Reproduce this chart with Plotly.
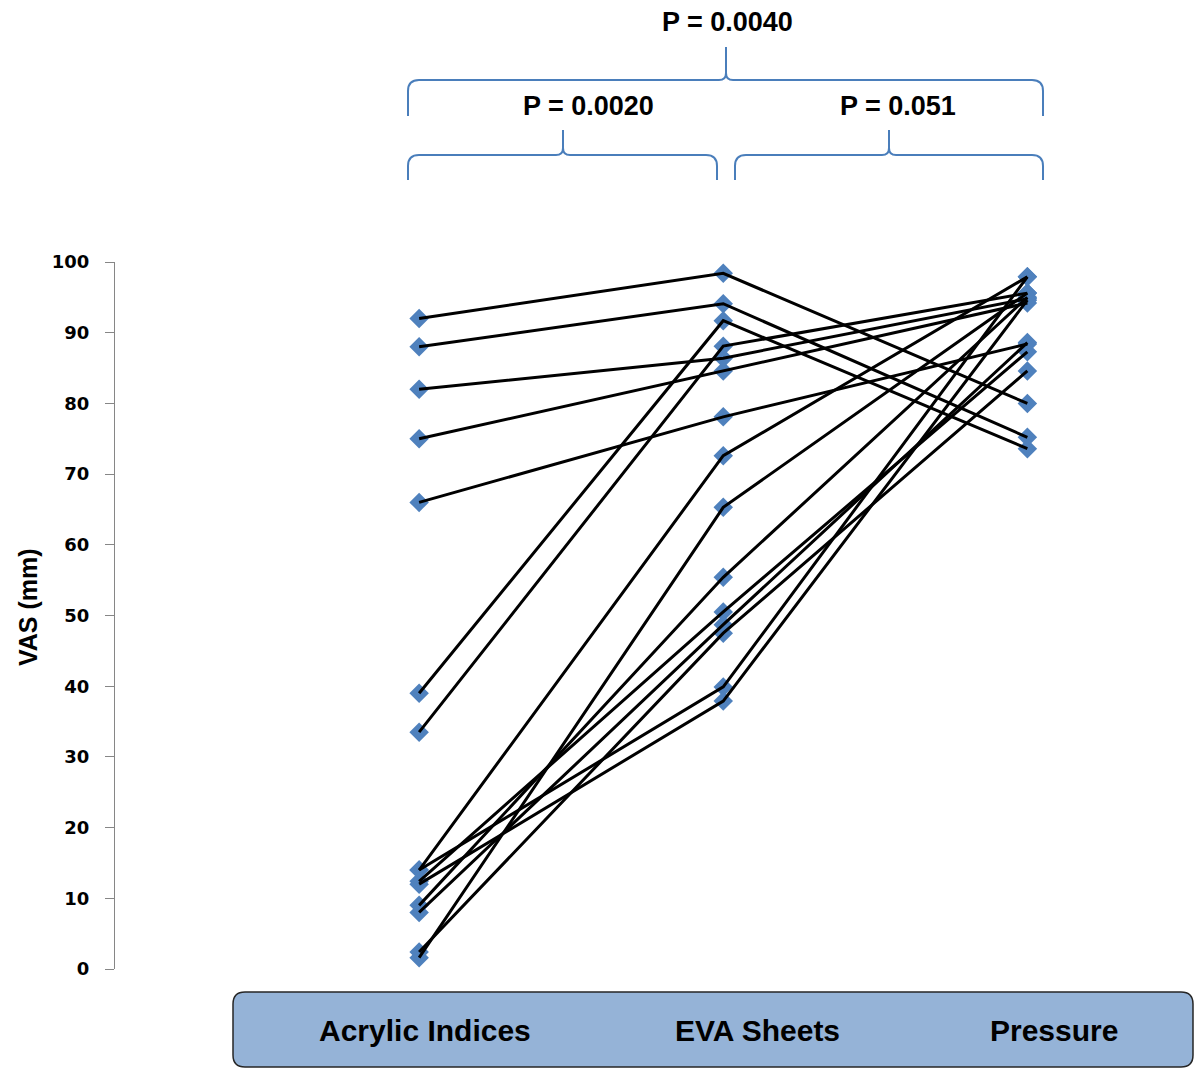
import plotly.graph_objects as go

# Treatment groups (left to right) and VAS scores (mm) per subject
groups = ["Acrylic Indices", "EVA Sheets", "Pressure"]
acrylic = [92.0, 88.0, 39.0, 33.5, 82.0, 75.0, 66.0, 14.0, 1.6, 9.0, 12.4, 8.0, 2.4, 14.0, 12.0]
eva = [98.4, 94.1, 91.7, 88.1, 86.4, 84.6, 78.1, 72.6, 65.3, 55.4, 50.5, 48.7, 47.5, 39.9, 37.9]
pressure = [80.0, 75.2, 73.6, 95.6, 94.8, 94.2, 88.4, 97.9, 95.6, 95.0, 87.3, 88.6, 84.6, 97.9, 94.6]
y_ticks = list(range(0, 101, 10))

# Pairwise comparison labels
p_labels = ["P = 0.0040", "P = 0.0020", "P = 0.051"]

W, H = 1195, 1068
ML, MR, MT, MB = 115, 46, 262, 99
PW, PH = W - ML - MR, H - MT - MB


def px(x):
    return (x - ML) / PW


def py(y):
    return (H - MB - y) / PH


def brace(x0, x1, xm, ybar, ytip, yend, r=11, rt=7):
    pts = [
        ("M", (x0, yend)), ("L", (x0, ybar + r)),
        ("Q", (x0, ybar), (x0 + r, ybar)), ("L", (xm - rt, ybar)),
        ("Q", (xm, ybar), (xm, ybar - rt)), ("L", (xm, ytip)),
        ("L", (xm, ybar - rt)), ("Q", (xm, ybar), (xm + rt, ybar)),
        ("L", (x1 - r, ybar)), ("Q", (x1, ybar), (x1, ybar + r)),
        ("L", (x1, yend)),
    ]
    out = []
    for cmd, *coords in pts:
        out.append(cmd + " " + " ".join(f"{px(a):.5f},{py(b):.5f}" for a, b in coords))
    return " ".join(out)


def rounded_rect(x0, y0, x1, y1, r):
    seq = [
        ("M", (x0 + r, y0)), ("L", (x1 - r, y0)), ("Q", (x1, y0), (x1, y0 + r)),
        ("L", (x1, y1 - r)), ("Q", (x1, y1), (x1 - r, y1)), ("L", (x0 + r, y1)),
        ("Q", (x0, y1), (x0, y1 - r)), ("L", (x0, y0 + r)), ("Q", (x0, y0), (x0 + r, y0)),
    ]
    out = []
    for cmd, *coords in seq:
        out.append(cmd + " " + " ".join(f"{px(a):.5f},{py(b):.5f}" for a, b in coords))
    return " ".join(out) + " Z"


# Build paired lines: one polyline per subject across the three groups
xs, ys = [], []
for a, e, p in zip(acrylic, eva, pressure):
    xs += [0, 1, 2, None]
    ys += [a, e, p, None]

mx = [0] * len(acrylic) + [1] * len(eva) + [2] * len(pressure)
my = acrylic + eva + pressure

fig = go.Figure()
fig.add_trace(go.Scatter(
    x=mx, y=my, mode="markers",
    marker=dict(symbol="diamond", size=15, color="#4F81BD", line=dict(width=0)),
    cliponaxis=False, hoverinfo="skip", showlegend=False,
))
fig.add_trace(go.Scatter(
    x=xs, y=ys, mode="lines",
    line=dict(color="black", width=3),
    cliponaxis=False, hoverinfo="skip", showlegend=False,
))

brace_color = "#4A7EBB"
shapes = [
    dict(type="path", xref="paper", yref="paper",
         path=rounded_rect(233, 992, 1193, 1067, 12),
         fillcolor="#95B3D7", line=dict(color="#262626", width=1.5), layer="below"),
    dict(type="path", xref="paper", yref="paper",
         path=brace(408, 1043, 726, 80, 47, 116),
         line=dict(color=brace_color, width=2)),
    dict(type="path", xref="paper", yref="paper",
         path=brace(408, 717, 563, 155, 130, 180),
         line=dict(color=brace_color, width=2)),
    dict(type="path", xref="paper", yref="paper",
         path=brace(735, 1043, 889, 155, 130, 180),
         line=dict(color=brace_color, width=2)),
]

label_font = dict(family="Liberation Sans, Arial, sans-serif", size=30, color="black", weight="bold")
p_font = dict(family="Liberation Sans, Arial, sans-serif", size=27, color="black", weight="bold")

annotations = []
for name, cx in zip(groups, [425, 757, 1054]):
    annotations.append(dict(text=name, x=px(cx), y=py(1030), xref="paper", yref="paper",
                            showarrow=False, font=label_font, xanchor="center", yanchor="middle"))
for lab, (cx, cy) in zip(p_labels, [(727, 22), (588, 106), (898, 106)]):
    annotations.append(dict(text=lab, x=px(cx), y=py(cy), xref="paper", yref="paper",
                            showarrow=False, font=p_font, xanchor="center", yanchor="middle"))
annotations.append(dict(text="VAS (mm)", x=px(28), y=py(607), xref="paper", yref="paper",
                        showarrow=False, textangle=-90,
                        font=dict(family="Liberation Sans, Arial, sans-serif", size=25,
                                  color="black", weight="bold"),
                        xanchor="center", yanchor="middle"))

fig.update_layout(
    width=W, height=H,
    margin=dict(l=ML, r=MR, t=MT, b=MB, pad=0),
    paper_bgcolor="white", plot_bgcolor="white",
    shapes=shapes, annotations=annotations,
    xaxis=dict(range=[-1, 2.4], visible=False, fixedrange=True),
    yaxis=dict(
        range=[0, 100], tickvals=y_ticks, ticktext=[str(v) for v in y_ticks],
        showline=True, linecolor="#868686", linewidth=1,
        ticks="outside", ticklen=9, tickcolor="#868686", tickwidth=1,
        showgrid=False, zeroline=False, ticklabelstandoff=12,
        tickfont=dict(family="DejaVu Sans, Verdana, sans-serif", size=18,
                      color="black", weight="bold"),
        fixedrange=True,
    ),
)

fig.write_html("out.html")
